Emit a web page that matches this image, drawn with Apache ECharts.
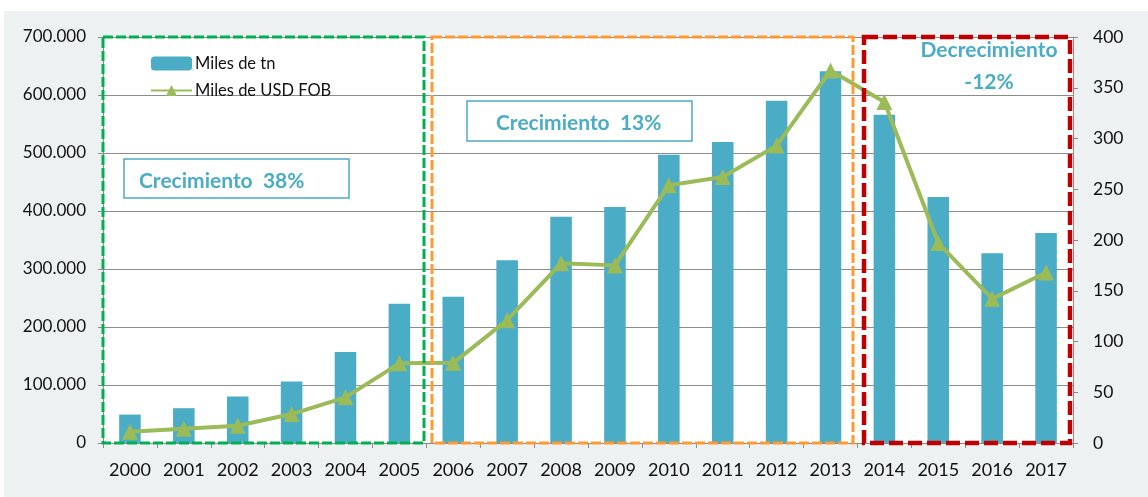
<!DOCTYPE html>
<html>
<head>
<meta charset="utf-8">
<script src="https://cdn.jsdelivr.net/npm/echarts@6/dist/echarts.min.js"></script>
<style>
  html, body { margin: 0; padding: 0; background: #ffffff; }
  #chart { position: absolute; left: 4px; top: 11px; width: 1144px; height: 486px; }
</style>
</head>
<body>
<div id="chart"></div>
<script>
const years = ['2000', '2001', '2002', '2003', '2004', '2005', '2006', '2007', '2008',
  '2009', '2010', '2011', '2012', '2013', '2014', '2015', '2016', '2017']
// Miles de tn (eje izquierdo)
const tonnes = [49000, 60000, 80000, 106000, 157000, 240000, 252000, 315000, 390000,
  407000, 497000, 519000, 590000, 641000, 566000, 424000, 327000, 362000]
// Miles de USD FOB (eje derecho)
const usdFob = [11, 14, 17, 28.5, 45, 78.5, 79, 121, 177,
  175, 254, 262, 293, 367, 336, 197, 142, 168]
const leftTicks = [0, 100000, 200000, 300000, 400000, 500000, 600000, 700000]
const rightTicks = [0, 50, 100, 150, 200, 250, 300, 350, 400]

const barColor = '#4BACC6'
const lineColor = '#9BBB59'
const gridColor = '#8C8C8C'
const font = 'Lato, "Open Sans", sans-serif'

function thousands(v) {
  return String(v).replace(/\B(?=(\d{3})+(?!\d))/g, '.')
}

const chart = echarts.init(document.getElementById('chart'))
chart.setOption({
  backgroundColor: '#EEF1F2',
  animation: false,
  textStyle: { fontFamily: font },
  grid: {
    show: true,
    backgroundColor: '#ffffff',
    borderWidth: 0,
    left: 99,
    right: 75,
    top: 26,
    bottom: 54
  },
  legend: {
    orient: 'vertical',
    left: 141,
    top: 39,
    itemWidth: 41,
    itemHeight: 14,
    itemGap: 10,
    textStyle: { fontSize: 16.5, color: '#111', fontFamily: font, padding: [0, 0, 0, -2] },
    data: [
      { name: 'Miles de tn', itemStyle: { color: barColor } },
      { name: 'Miles de USD FOB' }
    ]
  },
  xAxis: {
    type: 'category',
    data: years,
    axisLine: { lineStyle: { color: gridColor, width: 1 } },
    axisTick: { show: true, interval: 0, length: 5, lineStyle: { color: gridColor } },
    axisLabel: { interval: 0, fontSize: 18, color: '#111', margin: 18 }
  },
  yAxis: [
    {
      type: 'value',
      min: leftTicks[0],
      max: leftTicks[leftTicks.length - 1],
      interval: leftTicks[1] - leftTicks[0],
      axisLine: { show: true, lineStyle: { color: gridColor } },
      axisTick: { show: true, length: 5, lineStyle: { color: gridColor } },
      splitLine: { show: true, lineStyle: { color: gridColor, width: 1 } },
      axisLabel: { fontSize: 17, color: '#111', margin: 17, formatter: thousands }
    },
    {
      type: 'value',
      position: 'right',
      min: rightTicks[0],
      max: rightTicks[rightTicks.length - 1],
      interval: rightTicks[1] - rightTicks[0],
      axisLine: { show: true, lineStyle: { color: gridColor } },
      axisTick: { show: true, length: 5, lineStyle: { color: gridColor } },
      splitLine: { show: false },
      axisLabel: { fontSize: 17.5, color: '#111', margin: 20 }
    }
  ],
  series: [
    {
      name: 'Miles de tn',
      type: 'bar',
      data: tonnes,
      barWidth: '40%',
      itemStyle: { color: barColor },
      z: 2
    },
    {
      name: 'Miles de USD FOB',
      type: 'line',
      yAxisIndex: 1,
      data: usdFob,
      symbol: 'triangle',
      symbolSize: 16,
      itemStyle: { color: lineColor },
      lineStyle: { color: lineColor, width: 4 },
      z: 4
    }
  ],
  graphic: [
    // periodos
    {
      type: 'rect', z: 10,
      shape: { x: 99, y: 26, width: 321, height: 406 },
      style: { fill: null, stroke: '#00B050', lineWidth: 3, lineDash: [10, 3] }
    },
    {
      type: 'rect', z: 10,
      shape: { x: 428, y: 26, width: 421, height: 406 },
      style: { fill: null, stroke: '#FF9A33', lineWidth: 3, lineDash: [10, 3] }
    },
    {
      type: 'rect', z: 10,
      shape: { x: 860, y: 26, width: 206, height: 406 },
      style: { fill: null, stroke: '#C00000', lineWidth: 4.5, lineDash: [14, 5] }
    },
    // etiquetas
    {
      type: 'rect', z: 11,
      shape: { x: 120, y: 148, width: 225, height: 39 },
      style: { fill: '#ffffff', stroke: barColor, lineWidth: 1.5 }
    },
    {
      type: 'text', z: 12, x: 135, y: 170,
      style: { text: 'Crecimiento  38%', fill: barColor, font: 'bold 21px ' + font, verticalAlign: 'middle' }
    },
    {
      type: 'rect', z: 11,
      shape: { x: 463, y: 90, width: 225, height: 40 },
      style: { fill: '#ffffff', stroke: barColor, lineWidth: 1.5 }
    },
    {
      type: 'text', z: 12, x: 492, y: 112,
      style: { text: 'Crecimiento  13%', fill: barColor, font: 'bold 21px ' + font, verticalAlign: 'middle' }
    },
    {
      type: 'text', z: 12, x: 985, y: 39,
      style: { text: 'Decrecimiento', fill: barColor, align: 'center', verticalAlign: 'middle', font: 'bold 21px ' + font }
    },
    {
      type: 'text', z: 12, x: 985, y: 71,
      style: { text: '-12%', fill: barColor, align: 'center', verticalAlign: 'middle', font: 'bold 21px ' + font }
    }
  ]
})
</script>
</body>
</html>
